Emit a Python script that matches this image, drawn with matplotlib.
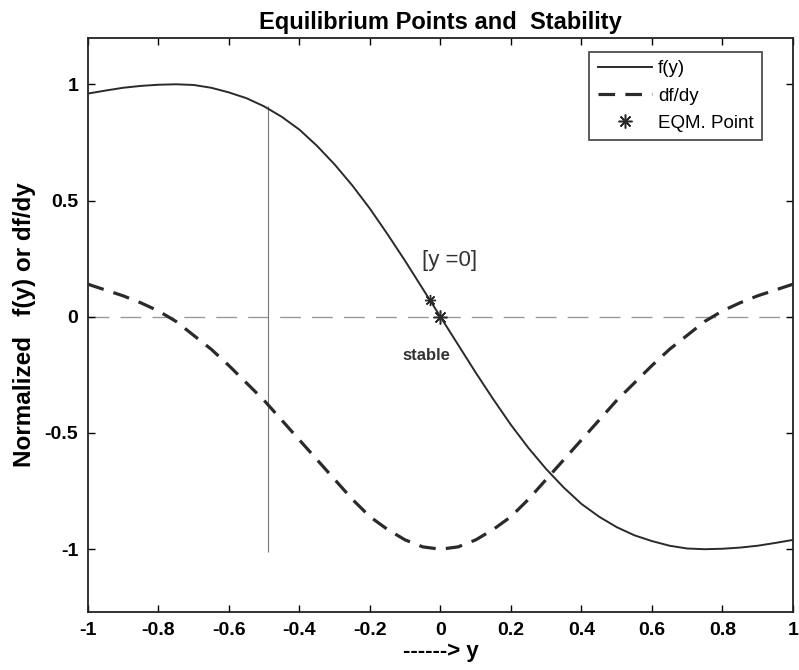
import matplotlib
matplotlib.use("Agg")
import matplotlib.pyplot as plt

plt.rcParams['font.family'] = ['Liberation Sans', 'DejaVu Sans']

# sample positions along y
y_vals = [-1.00, -0.95, -0.90, -0.85, -0.80, -0.75, -0.70, -0.65, -0.60, -0.55,
          -0.50, -0.45, -0.40, -0.35, -0.30, -0.25, -0.20, -0.15, -0.10, -0.05,
          0.00, 0.05, 0.10, 0.15, 0.20, 0.25, 0.30, 0.35, 0.40, 0.45,
          0.50, 0.55, 0.60, 0.65, 0.70, 0.75, 0.80, 0.85, 0.90, 0.95, 1.00]

# normalized f(y)
f_vals = [0.960, 0.973, 0.985, 0.993, 0.998, 1.000, 0.997, 0.985, 0.965, 0.940,
          0.905, 0.860, 0.805, 0.735, 0.655, 0.565, 0.465, 0.355, 0.240, 0.120,
          0.000, -0.120, -0.240, -0.355, -0.465, -0.565, -0.655, -0.735, -0.805, -0.860,
          -0.905, -0.940, -0.965, -0.985, -0.997, -1.000, -0.998, -0.993, -0.985, -0.973, -0.960]

# normalized df/dy
df_vals = [0.140, 0.115, 0.090, 0.060, 0.025, -0.020, -0.080, -0.140, -0.210, -0.285,
           -0.360, -0.445, -0.530, -0.615, -0.700, -0.785, -0.860, -0.915, -0.960, -0.990,
           -1.000, -0.990, -0.960, -0.915, -0.860, -0.785, -0.700, -0.615, -0.530, -0.445,
           -0.360, -0.285, -0.210, -0.140, -0.080, -0.020, 0.025, 0.060, 0.090, 0.115, 0.140]

# equilibrium point and the arrow tip near it
eqm_y = [0.0]
eqm_f = [0.0]
tip_y = [-0.03]
tip_f = [0.072]

# thin marker line
vline_x = -0.49
vline_range = (-1.013, 0.905)

x_ticks = [-1, -0.8, -0.6, -0.4, -0.2, 0, 0.2, 0.4, 0.6, 0.8, 1]
x_tick_labels = ['-1', '-0.8', '-0.6', '-0.4', '-0.2', '0', '0.2', '0.4', '0.6', '0.8', '1']
y_ticks = [-1, -0.5, 0, 0.5, 1]
y_tick_labels = ['-1', '-0.5', '0', '0.5', '1']

fig = plt.figure(figsize=(7.99, 6.70), dpi=100)
ax = fig.add_axes([0.110, 0.0866, 0.8824, 0.857])

line_col = '#2a2a2a'
star = (8, 2, 0)  # matlab style asterisk

ax.axhline(0, color='#9a9a9a', linewidth=1.0, linestyle=(0, (15, 8)), zorder=1)
ax.vlines(vline_x, vline_range[0], vline_range[1], color='#777777', linewidth=0.8, zorder=1)

ax.plot(y_vals, f_vals, color=line_col, linewidth=1.4, label='f(y)', zorder=3)
ax.plot(y_vals, df_vals, color=line_col, linewidth=2.3, linestyle=(0, (5.2, 3.2)), label='df/dy', zorder=3)
ax.plot(eqm_y, eqm_f, linestyle='none', marker=star, markersize=10, color=line_col,
        markeredgewidth=1.1, label='EQM. Point', zorder=4)
ax.plot(tip_y, tip_f, linestyle='none', marker=star, markersize=8, color=line_col,
        markeredgewidth=1.0, zorder=4)

ax.text(0.025, 0.24, '[y =0]', fontsize=16, ha='center', va='center', color='#333333')
ax.text(-0.04, -0.165, 'stable', fontsize=12, fontweight='bold', ha='center', va='center', color='#333333')

ax.set_xlim(-1, 1)
ax.set_ylim(-1.27, 1.2)
ax.set_xticks(x_ticks)
ax.set_xticklabels(x_tick_labels)
ax.set_yticks(y_ticks)
ax.set_yticklabels(y_tick_labels)
ax.tick_params(direction='in', top=True, right=True, length=5, width=1.0, labelsize=14, pad=7)
for lab in ax.get_xticklabels() + ax.get_yticklabels():
    lab.set_fontweight('bold')
for sp in ax.spines.values():
    sp.set_linewidth(1.3)
    sp.set_color('#222222')

ax.set_title('Equilibrium Points and  Stability', fontsize=17, fontweight='bold', pad=6)
ax.set_xlabel('------> y', fontsize=16, fontweight='bold', labelpad=2)
ax.set_ylabel('Normalized   f(y) or df/dy', fontsize=17.5, fontweight='bold', labelpad=6)

leg = ax.legend(loc='upper right', bbox_to_anchor=(0.956, 0.976), borderaxespad=0,
                fontsize=13.5, frameon=True, fancybox=False, edgecolor='#222222',
                handlelength=2.9, borderpad=0.45, labelspacing=0.55, handletextpad=0.3)
leg.get_frame().set_linewidth(1.3)

fig.savefig('out.png', dpi=100)
